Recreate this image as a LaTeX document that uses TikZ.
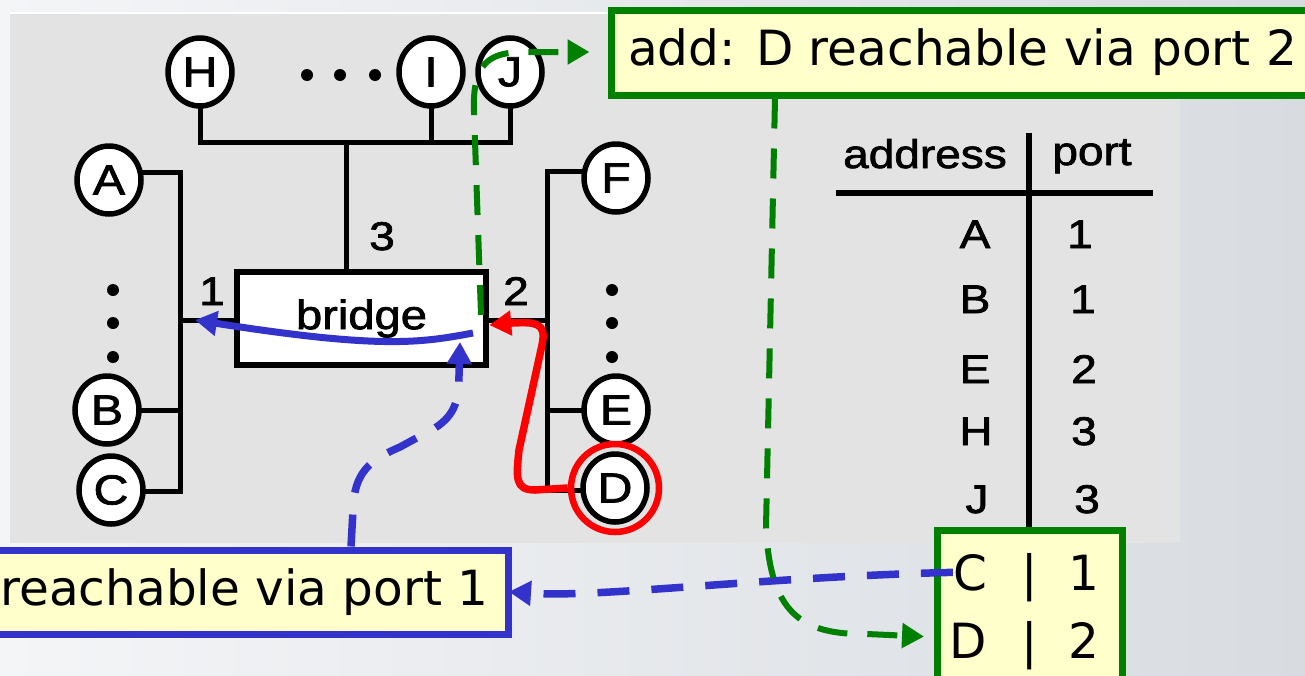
\documentclass[tikz,border=0pt]{standalone}
\usepackage{fontspec}
\usetikzlibrary{shapes.geometric,arrows.meta}
\newfontfamily\dfont[FakeStretch=1.15,FakeBold=1.8]{Liberation Sans}
\newfontfamily\cfont{DejaVu Sans}
\definecolor{panelgray}{HTML}{E3E3E3}
\definecolor{dgreen}{HTML}{008000}
\definecolor{bblue}{HTML}{3333CC}
\definecolor{notefill}{HTML}{FFFFCC}
\definecolor{bgl}{HTML}{F4F5F7}
\definecolor{bgr}{HTML}{D8DCE1}
\pgfdeclarelayer{bg}
\pgfdeclarelayer{wires}
\pgfsetlayers{bg,wires,main}
\begin{document}
\begin{tikzpicture}[x=1pt,y=-1pt,
  host/.style={ellipse,draw=black,line width=5.5pt,fill=white,minimum width=64pt,minimum height=68pt,inner sep=0pt,font=\dfont\fontsize{42}{48}\selectfont},
  bus/.style={line width=5pt,line join=miter},
  lbl/.style={inner sep=0pt,font=\dfont\fontsize{40}{48}\selectfont},
  callout/.style={draw,line width=7pt,fill=notefill,inner ysep=0pt,font=\cfont\fontsize{48.5}{56}\selectfont},
  ctext/.style={inner sep=0pt,font=\cfont\fontsize{48.5}{56}\selectfont},
  tip/.style={-{Triangle[length=22pt,width=24pt]}},
  dsh/.style={line width=6pt,dash pattern=on 30pt off 20pt},
  bdsh/.style={line width=7.5pt,dash pattern=on 32pt off 22pt},
  dotm/.style={fill=black}
]
\useasboundingbox (0,0) rectangle (1305,675);
\begin{pgfonlayer}{bg}
\shade[left color=bgl,right color=bgr] (0,0) rectangle (1305,675);
\fill[panelgray] (10,14) rectangle (1180,543);
\draw[white,line width=2pt] (10,13) -- (1180,13);
\end{pgfonlayer}

% hosts
\node[host] (H) at (200,72) {H};
\node[host] (I) at (431,72) {I};
\node[host] (J) at (510,72) {J};
\node[host] (A) at (109,180) {A};
\node[host] (B) at (107,410) {B};
\node[host] (C) at (111,490) {C};
\node[host] (F) at (616,178) {F};
\node[host] (E) at (616,410) {E};
\node[host] (D) at (615,488) {D};

% bridge
\node[draw=black,line width=6.5pt,fill=white,minimum width=249pt,minimum height=93pt,inner sep=0pt,font=\dfont\fontsize{41}{48}\selectfont] (bridge) at (361.5,318.5) {bridge};

% dots
\fill[dotm] (307,75) circle (6pt) (340,75) circle (6pt) (375,75) circle (6pt);
\fill[dotm] (113,290) circle (6pt) (113,323) circle (6pt) (113,357) circle (6pt);
\fill[dotm] (612,290) circle (6pt) (612,323) circle (6pt) (612,357) circle (6pt);

% wires
\coordinate (TB) at (0,142);
\coordinate (LT) at (180,172);
\coordinate (LB) at (180,491);
\coordinate (RT) at (547,171);
\coordinate (RB) at (547,490);
\coordinate (P) at (0,320);
\begin{pgfonlayer}{wires}
\draw[bus] (H.center) -- (H.center |- TB) -| (J.center);
\draw[bus] (I.center) -- (I.center |- TB);
\draw[bus] ([xshift=-15pt]bridge.center) -- ([xshift=-15pt]bridge.center |- TB);
\draw[bus] (A.center |- LT) -- (LT) -- (LB) -- (C.center |- LB);
\draw[bus] (B.center) -- (B.center -| LT);
\draw[bus] (bridge.center |- P) -- (LT |- P);
\draw[bus] (F.center |- RT) -- (RT) -- (RB) -- (D.center |- RB);
\draw[bus] (E.center) -- (E.center -| RT);
\draw[bus] (bridge.center |- P) -- (RT |- P);
\end{pgfonlayer}

% port labels
\node[lbl,anchor=base] (p1) at (212,305) {1};
\node[lbl,anchor=base] (p2) at (516,305) {2};
\node[lbl,anchor=base] (p3) at (382,250) {3};

% table
\node[lbl,anchor=base] (addr) at (925,168) {address};
\node[lbl,anchor=base] (port) at (1092,165) {port};
\draw[line width=5.5pt] (836,193) -- (1153,193);
\coordinate (TT) at (1029,133);
\node[lbl,anchor=base] (rA) at (975,248) {A};
\node[lbl,anchor=base] (rB) at (975,313) {B};
\node[lbl,anchor=base] (rE) at (975,383) {E};
\node[lbl,anchor=base] (rH) at (976,445) {H};
\node[lbl,anchor=base] (rJ) at (977,513) {J};
\node[lbl,anchor=base] (nA) at (1080,248) {1};
\node[lbl,anchor=base] (nB) at (1083,313) {1};
\node[lbl,anchor=base] (nE) at (1084,383) {2};
\node[lbl,anchor=base] (nH) at (1084,445) {3};
\node[lbl,anchor=base] (nJ) at (1087,513) {3};
\draw[line width=5.5pt] (TT) -- (1029,530);

% table callout
\node[draw=dgreen,line width=7pt,fill=notefill,minimum width=185pt,minimum height=200pt,anchor=north west,inner sep=0pt] (tbl) at (933.5,526.5) {};
\node[ctext,anchor=base] (c1) at (970,590) {C};
\node[ctext,anchor=base] (c2) at (1030,590) {|};
\node[ctext,anchor=base] (c3) at (1084,590) {1};
\node[ctext,anchor=base] (d1) at (968,658) {D};
\node[ctext,anchor=base] (d2) at (1030,658) {|};
\node[ctext,anchor=base] (d3) at (1084,658) {2};

% callouts
\node[callout,draw=dgreen,anchor=north west,minimum height=85pt,inner xsep=17pt] (addnote) at (607.5,6.5) {add: D reachable via port 2};
\node[callout,draw=bblue,anchor=east,minimum height=84pt,inner xsep=20pt] (bluenote) at (512,592) {reachable via port 1};

% red ring and path
\node[ellipse,draw=red,line width=6.5pt,minimum width=88pt,minimum height=88pt,inner sep=0pt] (Dring) at (615,488) {};
\draw[red,line width=7.5pt,tip] (Dring.west) -- (535,490) .. controls (515,490) and (516,478) .. (519,450) -- (542,345) .. controls (547,322) and (535,322) .. (512,323) -- (bridge.east |- 0,325);

% blue solid arrow
\coordinate (bs) at (473,333);
\coordinate (bt) at (195,320);
\draw[bblue,line width=7pt,tip] (bs) .. controls (420,343) and (380,349) .. (bt);

% blue dashed up
\coordinate (bu) at (460,342);
\draw[bblue,bdsh,tip] (bluenote.north -| 351,0) -- (353,510) .. controls (354,472) and (370,460) .. (400,447) -- (435,428) .. controls (455,415) and (459,400) .. (459,375) -- (bu);

% blue dashed from table
\draw[bblue,bdsh,tip,shorten >=-3pt] (c1.west) .. controls (760,577) and (600,598) .. (bluenote.east);

% green dashed 1
\coordinate (g1) at (481,315);
\draw[dgreen,dsh,tip,shorten >=18pt] (g1) -- (474,112) .. controls (472,62) and (490,52) .. (525,52) -- (addnote.west |- 0,52);

% green dashed 2
\draw[dgreen,dsh,tip,shorten >=9.5pt] (addnote.south -| 775,0) -- (766,527) .. controls (770,612) and (800,635) .. (867,634) -- (tbl.west |- 0,637);
\end{tikzpicture}
\end{document}
